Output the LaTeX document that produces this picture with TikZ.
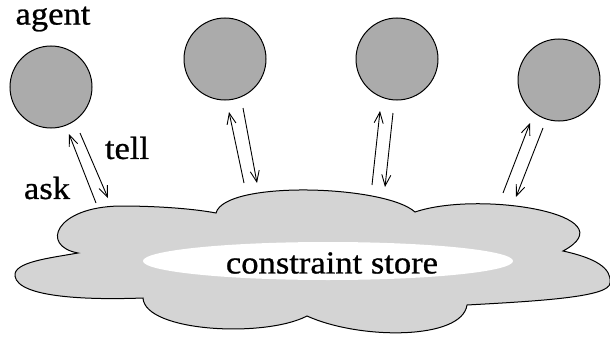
\documentclass[tikz,border=0pt]{standalone}
\usepackage{fontspec}
\setmainfont[FakeStretch=1.08,FakeBold=0.8]{Liberation Serif}
\usetikzlibrary{arrows.meta,shapes.geometric}
\definecolor{agentgray}{HTML}{ABABAB}
\definecolor{storegray}{HTML}{D4D4D4}
\tikzset{
  agent/.style={circle, draw=black, line width=1pt, fill=agentgray, minimum size=82pt, inner sep=0pt},
  msg/.style={line width=0.9pt, -{Straight Barb[length=11pt,width=9pt,line width=0.9pt]}},
  lbl/.style={font=\fontsize{32}{36}\selectfont, inner sep=0pt}
}
\begin{document}
\begin{tikzpicture}[x=1pt,y=-1pt]
\useasboundingbox (0,0) rectangle (610,337);

% the shared store: a cloud with a white core
\path[draw=black, line width=1pt, fill=storegray]
  (78,253) .. controls (40,246) and (55,207) .. (120,206)
           .. controls (160,206) and (195,209) .. (216,213)
           .. controls (225,180) and (385,185) .. (415,212)
           .. controls (480,190) and (630,215) .. (563,251)
           .. controls (595,258) and (612,268) .. (610,283)
           .. controls (610,297) and (540,301) .. (467,305)
           .. controls (462,340) and (360,340) .. (307,316)
           .. controls (265,338) and (145,332) .. (143,298)
           .. controls (90,300) and (18,298) .. (15,276)
           .. controls (13,262) and (50,258) .. (78,253) -- cycle;
\node[ellipse, fill=white, minimum width=370pt, minimum height=38pt, inner sep=0pt] (core) at (328,261) {};
\node[lbl] (store) at (332,263) {constraint store};

% agents
\node[agent] (g1) at (51,87) {};
\node[agent] (g2) at (225,59) {};
\node[agent] (g3) at (397,59) {};
\node[agent] (g4) at (559,80) {};

\node[lbl] (agentlbl) at (53,19) {agent};
\node[lbl] (tell) at (127,148) {tell};
\node[lbl] (ask) at (47,188) {ask};

% ends of the ask/tell arrows
\coordinate (u1a) at (96,203);  \coordinate (u1b) at (69,134);
\coordinate (d1a) at (80,133);  \coordinate (d1b) at (108,198);
\coordinate (u2a) at (244,183); \coordinate (u2b) at (229,112);
\coordinate (d2a) at (243,108); \coordinate (d2b) at (257,183);
\coordinate (u3a) at (372,185); \coordinate (u3b) at (380,111);
\coordinate (d3a) at (393,113); \coordinate (d3b) at (385,187);
\coordinate (u4a) at (503,193); \coordinate (u4b) at (530,123);
\coordinate (d4a) at (543,128); \coordinate (d4b) at (516,197);

\foreach \i in {1,2,3,4}{
  \draw[msg] (u\i a) -- (u\i b);
  \draw[msg] (d\i a) -- (d\i b);
}
\end{tikzpicture}
\end{document}
